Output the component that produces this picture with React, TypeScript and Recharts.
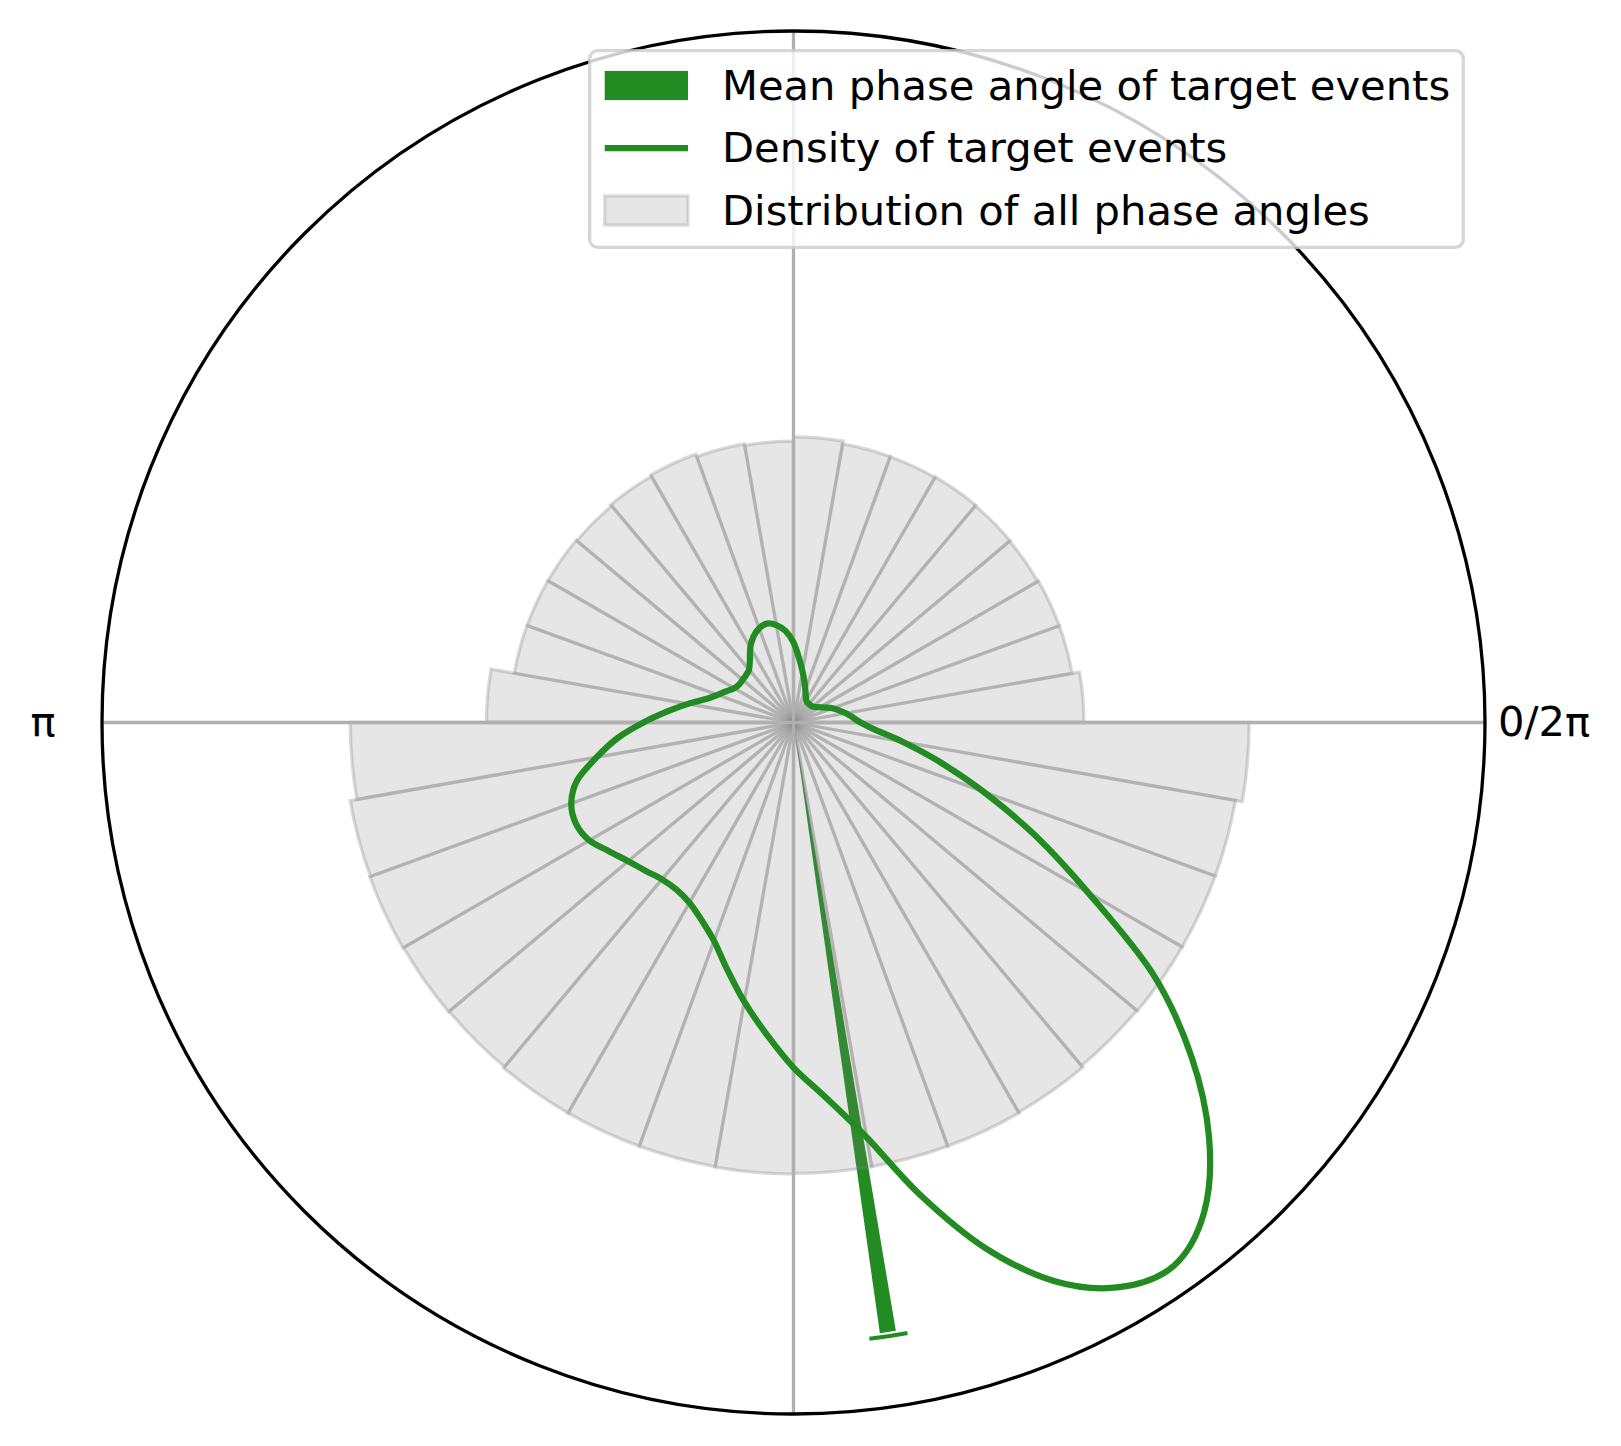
import React from 'react';
import {
  PolarAngleAxis,
  PolarGrid,
  PolarRadiusAxis,
  Radar,
  RadarChart,
  RadialBar,
  RadialBarChart,
  Sector,
} from 'recharts';

const W = 1621;
const H = 1446;
const CX = 793.5;
const CY = 722.5;
const R = 691.5;
const GREEN = '#228B22';
const FONT = '"DejaVu Sans", sans-serif';

// histogram of all phase angles: 36 bins of 10 degrees (bin start)
const binStarts = [
  0, 10, 20, 30, 40, 50, 60, 70, 80, 90, 100, 110, 120, 130, 140, 150, 160, 170,
  180, 190, 200, 210, 220, 230, 240, 250, 260, 270, 280, 290, 300, 310, 320, 330, 340, 350,
];
const binHeights = [
  0.42, 0.409, 0.409, 0.408, 0.409, 0.41, 0.409, 0.409, 0.413, 0.407, 0.409, 0.413,
  0.411, 0.409, 0.41, 0.41, 0.41, 0.444,
  0.641, 0.651, 0.652, 0.651, 0.65, 0.652, 0.652, 0.652, 0.653, 0.652, 0.652, 0.652,
  0.651, 0.648, 0.649, 0.649, 0.649, 0.659,
];

// density of target events, sampled every 5 degrees
const densityAngles = [
  0, 5, 10, 15, 20, 25, 30, 35, 40, 45, 50, 55, 60, 65, 70, 75, 80, 85,
  90, 95, 100, 105, 110, 115, 120, 125, 130, 135, 140, 145, 150, 155, 160, 165, 170, 175,
  180, 185, 190, 195, 200, 205, 210, 215, 220, 225, 230, 235, 240, 245, 250, 255, 260, 265,
  270, 275, 280, 285, 290, 295, 300, 305, 310, 315, 320, 325, 330, 335, 340, 345, 350, 355,
];
const densityValues = [
  0.097, 0.086, 0.077, 0.068, 0.06, 0.051, 0.044, 0.039, 0.036, 0.035, 0.035, 0.035,
  0.037, 0.042, 0.05, 0.061, 0.075, 0.093,
  0.116, 0.133, 0.143, 0.148, 0.145, 0.137, 0.125, 0.11, 0.1, 0.097, 0.096, 0.096,
  0.099, 0.107, 0.117, 0.131, 0.155, 0.183,
  0.217, 0.255, 0.289, 0.324, 0.342, 0.347, 0.341, 0.325, 0.312, 0.303, 0.296, 0.295,
  0.301, 0.315, 0.336, 0.37, 0.41, 0.452,
  0.499, 0.545, 0.609, 0.707, 0.808, 0.891, 0.943, 0.959, 0.924, 0.85, 0.751, 0.635,
  0.492, 0.385, 0.292, 0.218, 0.16, 0.118,
];

// mean phase angle of target events
const meanPhaseDeg = 278.8;
const meanLength = 0.892;
const meanError = 0.006;

const tickAngles = [0, 180];
const tickLabels = ['0/2π', 'π'];

const legendLabels = [
  'Mean phase angle of target events',
  'Density of target events',
  'Distribution of all phase angles',
];

const histData = binStarts.map((b, i) => ({ bin: String(b), count: binHeights[i] }));
const densityData = densityAngles.map((a, i) => ({ angle: a, density: densityValues[i] }));
const meanData = [{ name: 'mean', length: meanLength, err: meanError }];

const BIN_WIDTH = 10;
const DENSITY_STEP = 5;
const MEAN_BAND = 4;
const LINE_W = 6.25;

const polarProps = {
  width: W,
  height: H,
  cx: CX,
  cy: CY,
  innerRadius: 0,
  outerRadius: R,
  margin: { top: 0, right: 0, bottom: 0, left: 0 },
};

function MeanWedge(props: any) {
  const { cx, cy, outerRadius, startAngle, endAngle } = props;
  const mid = (startAngle + endAngle) / 2;
  return (
    <Sector cx={cx} cy={cy} innerRadius={0} outerRadius={outerRadius}
      startAngle={mid - 0.75} endAngle={mid + 0.75} fill={GREEN} />
  );
}

function MeanCap(props: any) {
  const { cx, cy, outerRadius, startAngle, endAngle } = props;
  const mid = (startAngle + endAngle) / 2;
  return (
    <Sector cx={cx} cy={cy} innerRadius={outerRadius - 2} outerRadius={outerRadius + 2}
      startAngle={mid - 1.78} endAngle={mid + 1.78} fill={GREEN} />
  );
}

// closed smooth curve through the radar points
function SmoothRadar(props: any) {
  const pts: { x: number; y: number }[] = props.points || [];
  const n = pts.length;
  if (n < 3) return <g />;
  let d = `M${pts[0].x},${pts[0].y}`;
  for (let i = 0; i < n; i++) {
    const p0 = pts[(i - 1 + n) % n];
    const p1 = pts[i];
    const p2 = pts[(i + 1) % n];
    const p3 = pts[(i + 2) % n];
    const c1x = p1.x + (p2.x - p0.x) / 6;
    const c1y = p1.y + (p2.y - p0.y) / 6;
    const c2x = p2.x - (p3.x - p1.x) / 6;
    const c2y = p2.y - (p3.y - p1.y) / 6;
    d += ` C${c1x},${c1y} ${c2x},${c2y} ${p2.x},${p2.y}`;
  }
  return <path d={d + ' Z'} fill="none" stroke={GREEN} strokeWidth={LINE_W} strokeLinejoin="round" />;
}

function AngleTick(props: any) {
  const { x, y, payload } = props;
  const idx = tickAngles.indexOf(Number(payload.value));
  if (idx < 0) return <g />;
  return (
    <text x={x} y={y + 13} textAnchor="middle" fontFamily={FONT} fontSize={41.67} fill="#000">
      {tickLabels[idx]}
    </text>
  );
}

function LegendBox() {
  const rows = [36.5, 99, 161.5];
  return (
    <svg width={877} height={200} style={{ position: 'absolute', left: 588, top: 49 }}>
      <rect x={1.65} y={1.65} width={873.7} height={196.7} rx={8} ry={8}
        fill="#ffffff" fillOpacity={0.8} stroke="#cccccc" strokeOpacity={0.8} strokeWidth={3.3} />
      <rect x={16.7} y={rows[0] - 14.6} width={83.3} height={29.2} fill={GREEN} />
      <line x1={16.7} x2={100} y1={rows[1]} y2={rows[1]} stroke={GREEN} strokeWidth={LINE_W} />
      <rect x={16.7} y={rows[2] - 14.6} width={83.3} height={29.2}
        fill="#808080" fillOpacity={0.2} stroke="#808080" strokeOpacity={0.25} strokeWidth={3.3} />
      {legendLabels.map((label, i) => (
        <text key={label} x={134} y={rows[i] + 14} fontFamily={FONT} fontSize={41.67} fill="#000">
          {label}
        </text>
      ))}
    </svg>
  );
}

const layer: React.CSSProperties = { position: 'absolute', left: 0, top: 0 };

// Recharts draws centric bars and radar vertices one band away from the
// category start, so each polar range is started one band later/earlier.
export default function App() {
  return (
    <div style={{ position: 'absolute', left: 0, top: 0, width: W, height: H, background: '#fff' }}>
      <div style={layer}>
        <RadialBarChart {...polarProps} data={meanData} layout="centric"
          startAngle={meanPhaseDeg - MEAN_BAND / 2 + MEAN_BAND}
          endAngle={meanPhaseDeg + MEAN_BAND / 2 + MEAN_BAND} barCategoryGap={0}>
          <PolarAngleAxis type="category" dataKey="name" tick={false} axisLine={false} tickLine={false} />
          <PolarRadiusAxis type="number" domain={[0, 1]} tick={false} axisLine={false} />
          <RadialBar dataKey="length" stackId="m" shape={MeanWedge} isAnimationActive={false} />
          <RadialBar dataKey="err" stackId="m" shape={MeanCap} isAnimationActive={false} />
        </RadialBarChart>
      </div>
      <div style={layer}>
        <RadialBarChart {...polarProps} data={histData} layout="centric"
          startAngle={BIN_WIDTH} endAngle={360 + BIN_WIDTH} barCategoryGap={0} barGap={0}>
          <PolarAngleAxis type="category" dataKey="bin" axisLine={false} tickLine={false}
            tickSize={59} tick={AngleTick} />
          <PolarRadiusAxis type="number" domain={[0, 1]} tick={false} axisLine={false} />
          <RadialBar dataKey="count" fill="#808080" fillOpacity={0.2} stroke="#808080"
            strokeOpacity={0.3} strokeWidth={3.3} isAnimationActive={false} />
        </RadialBarChart>
      </div>
      <div style={layer}>
        <RadarChart {...polarProps} data={densityData} startAngle={-DENSITY_STEP} endAngle={360 - DENSITY_STEP}>
          <PolarGrid gridType="circle" polarAngles={[0, 90, 180, 270]} polarRadius={[]}
            stroke="#b0b0b0" strokeWidth={3.3} />
          <PolarAngleAxis dataKey="angle" type="category" axisLineType="circle"
            axisLine={{ stroke: '#000', strokeWidth: 3.3 }} tickLine={false} tick={false} />
          <PolarRadiusAxis type="number" domain={[0, 1]} tick={false} axisLine={false} />
          <Radar dataKey="density" stroke={GREEN} strokeWidth={LINE_W} fill="none" dot={false}
            isAnimationActive={false} shape={SmoothRadar} />
        </RadarChart>
      </div>
      <LegendBox />
    </div>
  );
}
